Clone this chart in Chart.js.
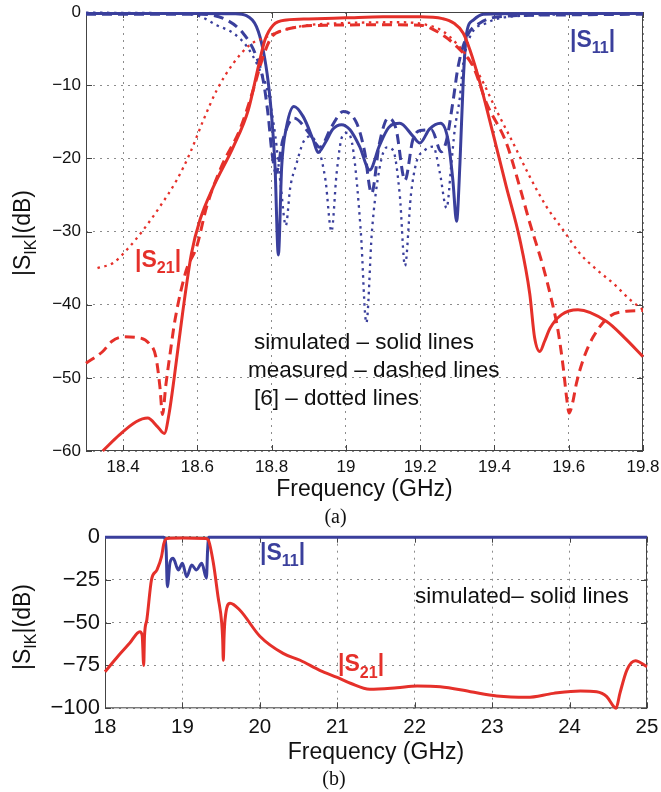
<!DOCTYPE html>
<html lang="en">
<head>
<meta charset="utf-8">
<title>|S11| and |S21| of the filter</title>
<script src="https://cdn.jsdelivr.net/npm/chart.js@4.4.1/dist/chart.umd.min.js"></script>
<style>
body { margin: 0; background: #fff; }
#wrap { position: relative; width: 661px; height: 792px; background: #fff; overflow: hidden;
        font-family: 'Liberation Sans', Arial, sans-serif; color: #111; }
canvas { position: absolute; left: 0; }
.lab { position: absolute; white-space: nowrap; }
.sub { font-size: 0.7em; position: relative; top: 0.42em; }
.ylab { position: absolute; font-size: 23px; line-height: 23px; white-space: nowrap;
        transform: translate(-50%, -50%) rotate(-90deg); }
.cap { position: absolute; font-family: 'Liberation Serif', 'Times New Roman', serif; font-size: 20px;
       line-height: 20px; width: 60px; text-align: center; }
</style>
</head>
<body>
<div id="wrap">
  <canvas id="chartA" width="661" height="503" style="top:0"></canvas>
  <canvas id="chartB" width="661" height="246" style="top:520px"></canvas>

  <div class="ylab" style="left:22.5px; top:232.5px">|S<span class="sub" style="top:0.35em">IK</span>|(dB)</div>
  <div class="ylab" style="left:22.5px; top:627px">|S<span class="sub" style="top:0.35em">IK</span>|(dB)</div>

  <div class="lab" style="left:570px; top:27.5px; font-size:23px; line-height:23px; font-weight:bold; color:#3a3f9c">|S<span class="sub">11</span>|</div>
  <div class="lab" style="left:135px; top:247.5px; font-size:23px; line-height:23px; font-weight:bold; color:#e5302a">|S<span class="sub">21</span>|</div>
  <div class="lab" style="left:254px; top:330.5px; font-size:22.5px; line-height:22.5px">simulated – solid lines</div>
  <div class="lab" style="left:248px; top:359.3px; font-size:22.5px; line-height:22.5px">measured – dashed lines</div>
  <div class="lab" style="left:254px; top:387px; font-size:22.5px; line-height:22.5px">[6] – dotted lines</div>
  <div class="cap" style="left:305.5px; top:506.3px">(a)</div>

  <div class="lab" style="left:260px; top:540.5px; font-size:23px; line-height:23px; font-weight:bold; color:#3a3f9c">|S<span class="sub">11</span>|</div>
  <div class="lab" style="left:338px; top:652px; font-size:23px; line-height:23px; font-weight:bold; color:#e5302a">|S<span class="sub">21</span>|</div>
  <div class="lab" style="left:415px; top:585.3px; font-size:22.5px; line-height:22.5px">simulated– solid lines</div>
  <div class="cap" style="left:304px; top:767.5px">(b)</div>
</div>

<script>
// ---- (a) zoom on the pass band ----
const aXTicks = [18.4, 18.6, 18.8, 19, 19.2, 19.4, 19.6, 19.8];
const aXLabels = ['18.4', '18.6', '18.8', '19', '19.2', '19.4', '19.6', '19.8'];
const aYTicks = [-60, -50, -40, -30, -20, -10, 0];
const aYLabels = ['\u221260', '\u221250', '\u221240', '\u221230', '\u221220', '\u221210', '0'];

// |S21| simulated (solid)
const aS21SimF = [18.345, 18.39, 18.435, 18.466, 18.493, 18.511, 18.524, 18.538, 18.56, 18.584, 18.607, 18.643, 18.697, 18.737, 18.764, 18.782, 18.804, 18.84, 18.9, 19.0, 19.1, 19.2, 19.26, 19.29, 19.316, 19.334, 19.361, 19.396, 19.432, 19.468, 19.495, 19.508, 19.522, 19.535, 19.55, 19.58, 19.625, 19.702, 19.75, 19.8];
const aS21SimDb = [-60, -57.8, -56.0, -55.5, -56.7, -57.6, -54.8, -49.8, -41.2, -33.0, -28.4, -23.9, -18.4, -13.4, -7.5, -3.8, -1.8, -1.1, -0.95, -0.8, -0.65, -0.65, -0.9, -1.5, -2.9, -5.2, -9.7, -16.6, -23.9, -31.0, -38.5, -44.5, -46.4, -45.0, -43.2, -41.4, -40.7, -42.3, -44.5, -47.1];
// |S21| measured (dashed)
const aS21MeasF = [18.3, 18.345, 18.37, 18.403, 18.44, 18.47, 18.488, 18.499, 18.506, 18.515, 18.527, 18.54, 18.57, 18.598, 18.625, 18.665, 18.714, 18.75, 18.777, 18.8, 18.831, 18.876, 18.957, 19.1, 19.2, 19.253, 19.298, 19.343, 19.379, 19.432, 19.468, 19.495, 19.531, 19.553, 19.571, 19.585, 19.595, 19.601, 19.61, 19.621, 19.639, 19.666, 19.71, 19.755, 19.8];
const aS21MeasDb = [-48.0, -46.4, -45.0, -44.4, -44.5, -45.3, -47.1, -51.2, -55.0, -51.0, -46.5, -42.0, -35.3, -32.1, -26.6, -21.1, -16.1, -10.7, -6.1, -3.4, -2.5, -2.0, -1.8, -1.75, -1.8, -2.9, -4.7, -7.5, -12.5, -17.9, -23.9, -28.8, -34.8, -39.2, -43.5, -48.5, -53.0, -54.8, -53.5, -50.7, -47.5, -44.4, -41.6, -40.9, -40.8];
// |S21| of [6] (dotted)
const aS21RefF = [18.331, 18.373, 18.41, 18.454, 18.499, 18.544, 18.58, 18.616, 18.652, 18.697, 18.741, 18.786, 18.831, 18.9, 19.0, 19.15, 19.22, 19.26, 19.298, 19.33, 19.361, 19.405, 19.45, 19.495, 19.54, 19.585, 19.63, 19.675, 19.72, 19.765, 19.8];
const aS21RefDb = [-35.0, -34.3, -32.5, -29.8, -26.6, -23.0, -19.3, -14.8, -10.7, -7.0, -4.5, -3.4, -2.5, -1.8, -1.5, -1.4, -1.8, -2.6, -4.3, -6.3, -8.8, -13.4, -17.9, -22.5, -26.6, -29.8, -33.0, -35.2, -37.1, -39.3, -40.7];

// |S11| simulated (solid)
const aS11SimF = [18.3, 18.6, 18.7, 18.732, 18.759, 18.777, 18.791, 18.8, 18.809, 18.818, 18.827, 18.84, 18.86, 18.885, 18.912, 18.925, 18.945, 18.965, 18.988, 19.011, 19.037, 19.064, 19.09, 19.115, 19.145, 19.181, 19.199, 19.225, 19.255, 19.275, 19.288, 19.298, 19.307, 19.316, 19.325, 19.343, 19.37, 19.5, 19.8];
const aS11SimDb = [-0.2, -0.2, -0.25, -0.5, -2.0, -5.2, -9.7, -14.3, -21.1, -33.2, -21.1, -15.7, -12.9, -14.3, -17.5, -19.2, -17.8, -16.0, -15.4, -16.1, -18.4, -21.6, -18.3, -15.8, -15.2, -17.0, -17.9, -16.0, -15.2, -17.5, -23.0, -28.6, -20.7, -9.3, -2.9, -1.1, -0.3, -0.2, -0.2];
// |S11| measured (dashed)
const aS11MeasF = [18.3, 18.61, 18.679, 18.723, 18.755, 18.777, 18.791, 18.8, 18.812, 18.83, 18.86, 18.9, 18.93, 18.961, 18.993, 19.029, 19.05, 19.069, 19.09, 19.114, 19.135, 19.159, 19.18, 19.2, 19.23, 19.257, 19.271, 19.289, 19.302, 19.325, 19.361, 19.423, 19.585, 19.8];
const aS11MeasDb = [-0.3, -0.3, -1.1, -2.9, -5.6, -9.3, -14.3, -18.9, -22.0, -17.5, -14.5, -16.5, -18.5, -15.7, -13.6, -15.2, -19.0, -24.8, -18.0, -14.5, -16.0, -23.0, -17.5, -16.2, -16.1, -19.1, -17.5, -12.0, -7.5, -3.4, -1.5, -0.6, -0.4, -0.3];
// |S11| of [6] (dotted)
const aS11RefF = [18.3, 18.55, 18.607, 18.652, 18.697, 18.733, 18.764, 18.79, 18.81, 18.825, 18.838, 18.85, 18.867, 18.885, 18.903, 18.925, 18.945, 18.961, 18.975, 18.99, 19.005, 19.02, 19.04, 19.055, 19.07, 19.09, 19.11, 19.127, 19.145, 19.159, 19.175, 19.19, 19.21, 19.235, 19.253, 19.271, 19.284, 19.293, 19.307, 19.316, 19.334, 19.379, 19.45, 19.8];
const aS11RefDb = [-0.1, -0.2, -0.6, -1.8, -2.9, -4.7, -7.5, -11.0, -17.0, -24.0, -29.2, -24.0, -20.7, -17.8, -17.0, -18.5, -23.0, -30.0, -22.0, -17.0, -16.5, -19.0, -30.0, -42.5, -30.0, -21.5, -18.5, -18.9, -25.0, -34.7, -25.0, -20.5, -19.0, -18.4, -22.0, -26.8, -20.7, -16.1, -11.6, -7.0, -3.4, -1.5, -0.6, -0.2];

// ---- (b) wide band, simulated only ----
const bXTicks = [18, 19, 20, 21, 22, 23, 24, 25];
const bXLabels = ['18', '19', '20', '21', '22', '23', '24', '25'];
const bYTicks = [-100, -75, -50, -25, 0];
const bYLabels = ['\u2212100', '\u221275', '\u221250', '\u221225', '0'];

const bS21F = [18.0, 18.17, 18.32, 18.45, 18.48, 18.5, 18.51, 18.54, 18.6, 18.67, 18.73, 18.76, 18.8, 19.0, 19.3, 19.335, 19.4, 19.46, 19.508, 19.52, 19.528, 19.538, 19.55, 19.615, 19.74, 20.0, 20.3, 20.52, 20.78, 21.0, 21.17, 21.42, 21.77, 22.03, 22.33, 22.72, 23.06, 23.45, 23.79, 24.14, 24.35, 24.48, 24.57, 24.6, 24.65, 24.74, 24.85, 25.0];
const bS21Db = [-78.7, -69.5, -62.0, -55.4, -57.5, -75.0, -58.0, -48.5, -25.2, -19.4, -11.6, -4.0, -1.0, -0.8, -1.0, -2.0, -15.5, -35.0, -50.5, -60.0, -72.0, -58.0, -48.5, -38.8, -42.7, -58.0, -68.0, -72.0, -78.0, -82.0, -85.4, -88.9, -88.0, -87.0, -87.4, -90.3, -92.8, -93.6, -91.3, -89.9, -90.3, -93.2, -99.0, -100.0, -91.3, -77.7, -72.3, -75.8];
const bS11F = [18.0, 18.76, 18.79, 18.805, 18.84, 18.88, 18.947, 19.0, 19.055, 19.12, 19.18, 19.25, 19.31, 19.325, 19.34, 25.0];
const bS11Db = [-0.3, -0.3, -8.0, -29.1, -15.0, -12.6, -19.4, -15.5, -23.3, -16.5, -19.4, -15.5, -24.2, -8.0, -0.3, -0.3];

const RED = '#e5302a', BLUE = '#3a3f9c';
const FONT = "'Liberation Sans', Arial, sans-serif";

function pts(fs, ys) { return fs.map((f, i) => ({ x: f, y: ys[i] })); }

function line(fs, ys, color, kind) {
  const ds = { data: pts(fs, ys), borderColor: color, borderWidth: 3, pointRadius: 0,
               fill: false, cubicInterpolationMode: 'monotone', clip: 3 };
  if (kind === 'dash') ds.borderDash = [10, 6];
  if (kind === 'dot') { ds.borderDash = [2.5, 4.5]; ds.borderWidth = 2.3; }
  return ds;
}

// matlab-like box with inward ticks
const frame = {
  id: 'frame',
  beforeDatasetsDraw(chart) {
    const { ctx, chartArea: a, scales: { x, y } } = chart;
    ctx.save();
    ctx.strokeStyle = '#444';
    ctx.lineWidth = 1;
    ctx.setLineDash([]);
    ctx.strokeRect(a.left + 0.5, a.top + 0.5, a.right - a.left - 1, a.bottom - a.top - 1);
    ctx.beginPath();
    x.ticks.forEach(t => {
      const p = Math.round(x.getPixelForValue(t.value)) + 0.5;
      ctx.moveTo(p, a.bottom); ctx.lineTo(p, a.bottom - 6);
      ctx.moveTo(p, a.top); ctx.lineTo(p, a.top + 6);
    });
    y.ticks.forEach(t => {
      const p = Math.round(y.getPixelForValue(t.value)) + 0.5;
      ctx.moveTo(a.left, p); ctx.lineTo(a.left + 6, p);
      ctx.moveTo(a.right, p); ctx.lineTo(a.right - 6, p);
    });
    ctx.stroke();
    ctx.restore();
  }
};

function axes(o) {
  const grid = { color: '#8c8c8c', lineWidth: 1, drawTicks: false };
  return {
    x: {
      type: 'linear', min: o.xmin, max: o.xmax,
      afterBuildTicks: s => { s.ticks = o.xt.map(v => ({ value: v })); },
      afterFit: s => { s.height = o.xh; s.paddingLeft = 0; s.paddingRight = 0; },
      grid: grid,
      border: { display: false, dash: [2, 5] },
      ticks: { autoSkip: false, maxRotation: 0, padding: o.xpad, color: '#111',
               font: { family: FONT, size: o.xfs }, callback: (v, i) => o.xl[i] },
      title: { display: true, text: 'Frequency (GHz)', color: '#111',
               font: { family: FONT, size: 23 }, padding: 0 }
    },
    y: {
      type: 'linear', min: o.ymin, max: o.ymax,
      afterBuildTicks: s => { s.ticks = o.yt.map(v => ({ value: v })); },
      afterFit: s => { s.width = o.yw; s.paddingTop = 0; s.paddingBottom = 0; },
      grid: grid,
      border: { display: false, dash: [2, 5] },
      ticks: { autoSkip: false, padding: 5, color: '#111',
               font: { family: FONT, size: o.yfs }, callback: (v, i) => o.yl[i] }
    }
  };
}

function options(pad, sc) {
  return {
    responsive: false, animation: false, devicePixelRatio: 1,
    layout: { padding: pad },
    plugins: { legend: { display: false }, tooltip: { enabled: false } },
    scales: sc
  };
}

new Chart(document.getElementById('chartA'), {
  type: 'line',
  data: { datasets: [
    line(aS21SimF, aS21SimDb, RED, 'solid'),
    line(aS21MeasF, aS21MeasDb, RED, 'dash'),
    line(aS21RefF, aS21RefDb, RED, 'dot'),
    line(aS11SimF, aS11SimDb, BLUE, 'solid'),
    line(aS11MeasF, aS11MeasDb, BLUE, 'dash'),
    line(aS11RefF, aS11RefDb, BLUE, 'dot')
  ] },
  options: options({ left: 0, right: 18, top: 12, bottom: 0 },
    axes({ xmin: 18.3, xmax: 19.8, xt: aXTicks, xl: aXLabels, xh: 52, xpad: 6, xfs: 17,
           ymin: -60, ymax: 0, yt: aYTicks, yl: aYLabels, yw: 86, yfs: 17 })),
  plugins: [frame]
});

new Chart(document.getElementById('chartB'), {
  type: 'line',
  data: { datasets: [
    line(bS21F, bS21Db, RED, 'solid'),
    line(bS11F, bS11Db, BLUE, 'solid')
  ] },
  options: options({ left: 0, right: 14, top: 16.7, bottom: 0 },
    axes({ xmin: 18, xmax: 25, xt: bXTicks, xl: bXLabels, xh: 57.7, xpad: 7, xfs: 20.5,
           ymin: -100, ymax: 0, yt: bYTicks, yl: bYLabels, yw: 105, yfs: 22 })),
  plugins: [frame]
});
</script>
</body>
</html>
